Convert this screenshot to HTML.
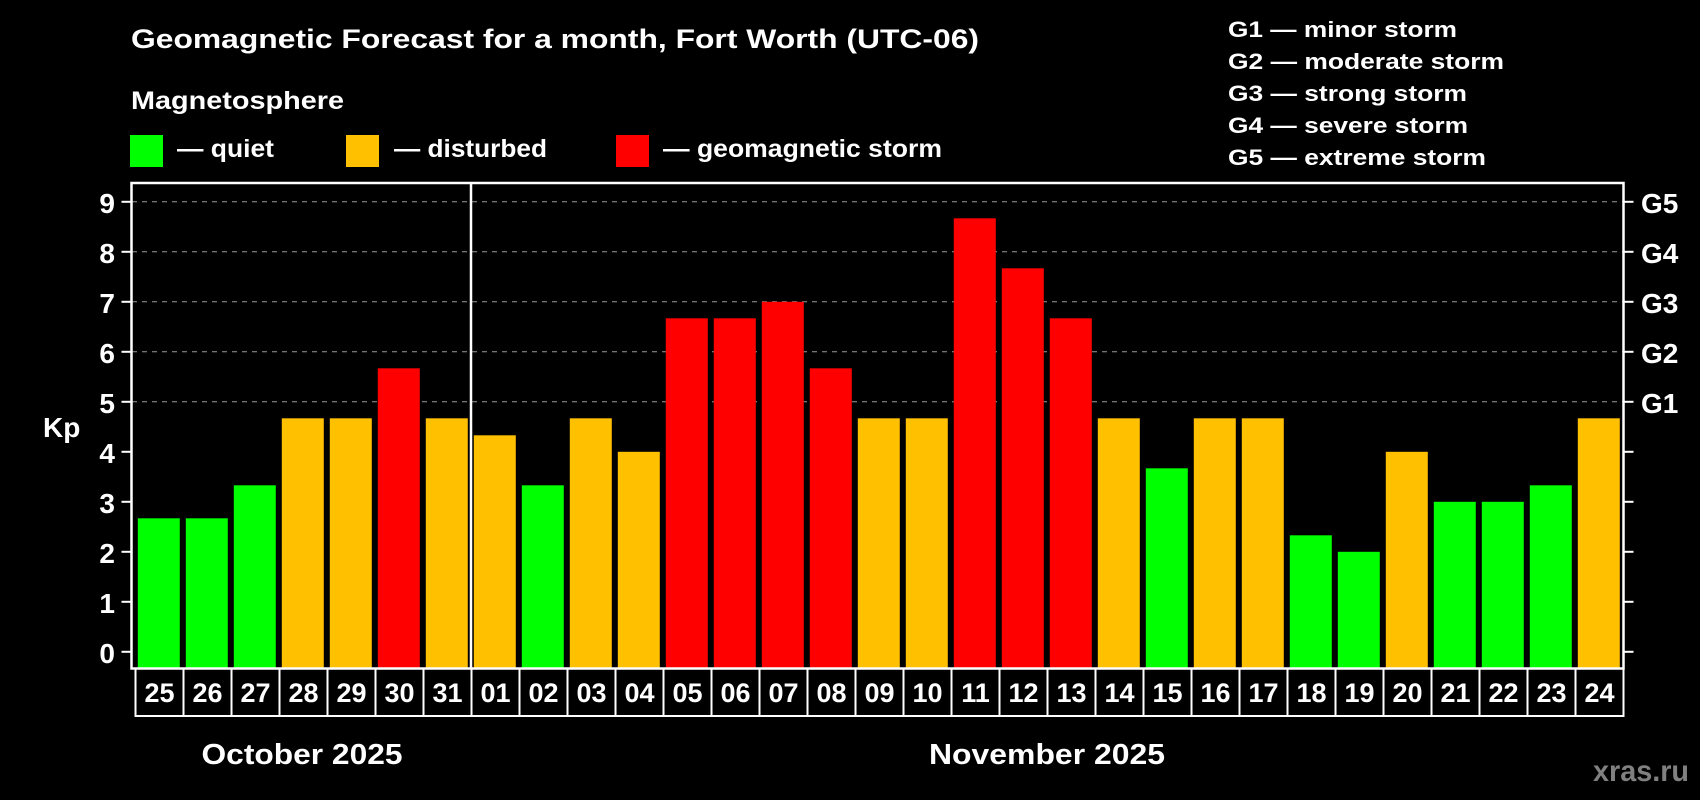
<!DOCTYPE html>
<html><head><meta charset="utf-8"><style>
html,body{margin:0;padding:0;background:#000;}
svg{display:block;}
text{font-family:"Liberation Sans",Arial,sans-serif;font-weight:bold;fill:#fff;}
</style></head><body>
<svg width="1700" height="800" viewBox="0 0 1700 800" xmlns="http://www.w3.org/2000/svg">
<rect width="1700" height="800" fill="#000"/>
<text x="131" y="48" font-size="27" textLength="848" lengthAdjust="spacingAndGlyphs">Geomagnetic Forecast for a month, Fort Worth (UTC-06)</text>
<text x="131" y="109" font-size="25" textLength="213" lengthAdjust="spacingAndGlyphs">Magnetosphere</text>
<rect x="130" y="135" width="33" height="32" fill="#00ff00"/>
<text x="177" y="157" font-size="25" textLength="97" lengthAdjust="spacingAndGlyphs">— quiet</text>
<rect x="346" y="135" width="33" height="32" fill="#ffc000"/>
<text x="394" y="157" font-size="25" textLength="153" lengthAdjust="spacingAndGlyphs">— disturbed</text>
<rect x="616" y="135" width="33" height="32" fill="#ff0000"/>
<text x="663" y="157" font-size="25" textLength="279" lengthAdjust="spacingAndGlyphs">— geomagnetic storm</text>
<g font-size="22">
<text x="1228" y="37" textLength="229" lengthAdjust="spacingAndGlyphs">G1 — minor storm</text>
<text x="1228" y="69" textLength="276" lengthAdjust="spacingAndGlyphs">G2 — moderate storm</text>
<text x="1228" y="101" textLength="239" lengthAdjust="spacingAndGlyphs">G3 — strong storm</text>
<text x="1228" y="133" textLength="240" lengthAdjust="spacingAndGlyphs">G4 — severe storm</text>
<text x="1228" y="165" textLength="258" lengthAdjust="spacingAndGlyphs">G5 — extreme storm</text>
</g>
<g id="grid" stroke="#9a9a9a" stroke-width="1" stroke-dasharray="5,5">
<line x1="132" x2="1624" y1="201.8" y2="201.8"/>
<line x1="132" x2="1624" y1="251.8" y2="251.8"/>
<line x1="132" x2="1624" y1="301.8" y2="301.8"/>
<line x1="132" x2="1624" y1="351.8" y2="351.8"/>
<line x1="132" x2="1624" y1="401.8" y2="401.8"/>
</g>
<g id="bars"></g>
<g stroke="#fff" stroke-width="2.5" fill="none">
<rect x="131.5" y="183" width="1492" height="485.5"/>
<line x1="471" y1="183" x2="471" y2="668"/>
</g>
<g id="ticks" stroke="#fff" stroke-width="2"></g>
<g id="ylab" font-size="28" text-anchor="end"></g>
<g id="glab" font-size="28"></g>
<text x="43" y="437" font-size="28">Kp</text>
<g id="days" font-size="27" text-anchor="middle"></g>
<text x="302" y="764" font-size="29" text-anchor="middle" textLength="201" lengthAdjust="spacingAndGlyphs">October 2025</text>
<text x="1047" y="764" font-size="29" text-anchor="middle" textLength="236" lengthAdjust="spacingAndGlyphs">November 2025</text>
<text x="1593" y="781" font-size="30" style="fill:#808080" textLength="96" lengthAdjust="spacingAndGlyphs">xras.ru</text>
</svg>
<script>
(function(){
var NS="http://www.w3.org/2000/svg";
function el(p,t,a,txt){var e=document.createElementNS(NS,t);for(var k in a)e.setAttribute(k,a[k]);if(txt!==undefined)e.textContent=txt;document.getElementById(p).appendChild(e);}
var days=["25","26","27","28","29","30","31","01","02","03","04","05","06","07","08","09","10","11","12","13","14","15","16","17","18","19","20","21","22","23","24"];
var v=[2.67,2.67,3.33,4.67,4.67,5.67,4.67,4.33,3.33,4.67,4,6.67,6.67,7,5.67,4.67,4.67,8.67,7.67,6.67,4.67,3.67,4.67,4.67,2.33,2,4,3,3,3.33,4.67];
var y0=651.8;
for(var i=0;i<31;i++){
 var c=v[i]<4?"#00ff00":(v[i]<5?"#ffc000":"#ff0000");
 var by=y0-v[i]*50;
 el("bars","rect",{x:137.8+48*i,y:by,width:42,height:668-by,fill:c});
 el("days","text",{x:135.5+48*i+24,y:702},days[i]);
 el("ticks","line",{x1:135.5+48*i,x2:135.5+48*i,y1:668,y2:717});
}
el("ticks","line",{x1:1623.5,x2:1623.5,y1:668,y2:717});
el("ticks","line",{x1:134.5,x2:1624.5,y1:716,y2:716});
for(var k=0;k<=9;k++){
 var y=y0-k*50;
 el("ticks","line",{x1:121.5,x2:131,y1:y,y2:y});
 el("ticks","line",{x1:1624,x2:1633.5,y1:y,y2:y});
 el("ylab","text",{x:115,y:y+11},String(k));
 if(k>=5) el("glab","text",{x:1641,y:y+11},"G"+(k-4));
}
})();
</script>
</body></html>
